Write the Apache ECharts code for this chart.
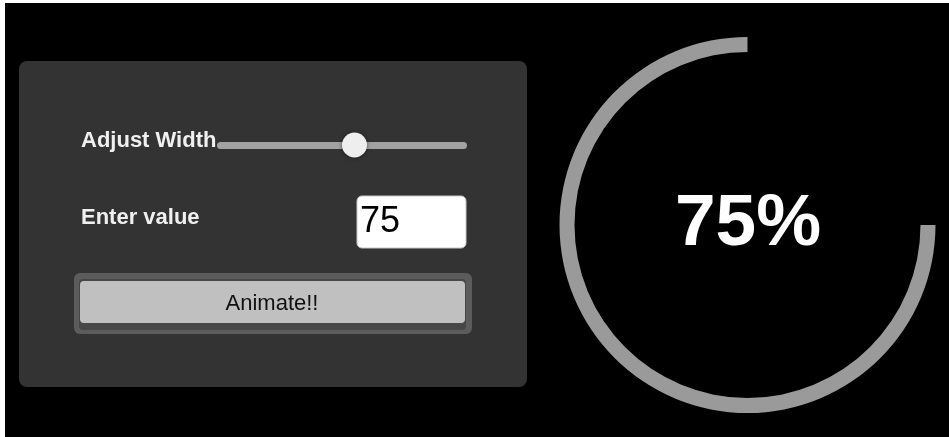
<!DOCTYPE html>
<html>
<head>
<meta charset="utf-8">
<script src="https://cdn.jsdelivr.net/npm/echarts@6/dist/echarts.min.js"></script>
<style>
html,body{margin:0;padding:0;background:#fff;}
#chart{width:949px;height:437px;}
</style>
</head>
<body>
<div id="chart"></div>
<script>
// ---- data ----
const progressValue = [75];          // percent shown by the ring
const progressMax = [100];
const controlLabels = ['Adjust Width', 'Enter value'];
const inputValue = ['75'];
const buttonLabels = ['Animate!!'];
const sliderFraction = [0.55];

const FONT = "'Liberation Sans', Arial, Helvetica, sans-serif";
const chart = echarts.init(document.getElementById('chart'), null, {renderer: 'canvas'});

const trackX0 = 217, trackX1 = 467;
const thumbX = trackX0 + (trackX1 - trackX0) * sliderFraction[0];

chart.setOption({
  backgroundColor: '#000',
  animation: false,
  polar: { center: [747.5, 225], radius: [173, 188] },
  angleAxis: {
    type: 'value', min: 0, max: progressMax[0], startAngle: 90, clockwise: false,
    show: false
  },
  radiusAxis: { type: 'category', data: ['progress'], show: false },
  series: [{
    type: 'bar',
    coordinateSystem: 'polar',
    data: progressValue,
    barCategoryGap: '0%',
    itemStyle: { color: '#9a9a9a' },
    silent: true
  }],
  graphic: [
    // white page margins
    { type: 'rect', shape: {x: 0, y: 0, width: 949, height: 3}, style: {fill: '#fff'} },
    { type: 'rect', shape: {x: 0, y: 0, width: 5, height: 437}, style: {fill: '#fff'} },
    // panel
    { type: 'rect', shape: {x: 19, y: 61, width: 508, height: 326, r: 8}, style: {fill: '#333333'} },
    // slider label
    { type: 'text', style: { text: controlLabels[0], x: 81, y: 141, font: 'bold 22px ' + FONT,
        fill: '#f0f0f0', textAlign: 'left', textVerticalAlign: 'middle' } },
    // slider track
    { type: 'rect', shape: {x: trackX0, y: 142, width: trackX1 - trackX0, height: 7, r: 3.5},
      style: {fill: '#a3a3a3'} },
    // slider thumb
    { type: 'circle', shape: {cx: thumbX, cy: 145, r: 12.5},
      style: {fill: '#eeeeee', shadowBlur: 4, shadowColor: 'rgba(0,0,0,0.5)'} },
    // input label
    { type: 'text', style: { text: controlLabels[1], x: 81, y: 218, font: 'bold 22px ' + FONT,
        fill: '#f0f0f0', textAlign: 'left', textVerticalAlign: 'middle' } },
    // input box
    { type: 'rect', shape: {x: 357, y: 196, width: 109, height: 52, r: 5},
      style: {fill: '#ffffff', stroke: '#c8c8c8', lineWidth: 1} },
    { type: 'text', style: { text: inputValue[0], x: 360, y: 222, font: '36px ' + FONT,
        fill: '#000', textAlign: 'left', textVerticalAlign: 'middle' } },
    // button
    { type: 'rect', shape: {x: 74, y: 273, width: 398, height: 61, r: 6}, style: {fill: '#5c5c5c'} },
    { type: 'rect', shape: {x: 79, y: 279, width: 387, height: 51, r: 4}, style: {fill: '#474747'} },
    { type: 'rect', shape: {x: 80, y: 281, width: 385, height: 42, r: 4}, style: {fill: '#c0c0c0'} },
    { type: 'text', style: { text: buttonLabels[0], x: 272, y: 304, font: '22px ' + FONT,
        fill: '#111', textAlign: 'center', textVerticalAlign: 'middle' } },
    // center percentage
    { type: 'text', style: { text: progressValue[0] + '%', x: 748, y: 225, font: 'bold 73px ' + FONT,
        fill: '#ffffff', textAlign: 'center', textVerticalAlign: 'middle' } }
  ]
});
</script>
</body>
</html>
